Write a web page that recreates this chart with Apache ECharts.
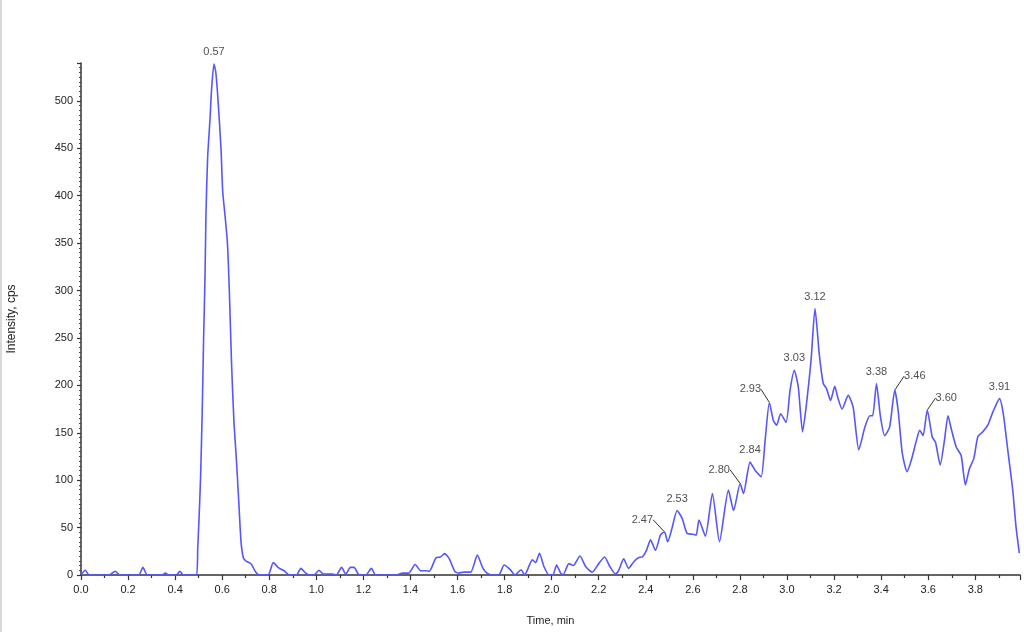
<!DOCTYPE html>
<html>
<head>
<meta charset="utf-8">
<script src="https://cdn.jsdelivr.net/npm/echarts@6/dist/echarts.min.js"></script>
<style>
html,body{margin:0;padding:0;background:#fff;}
#c{width:1024px;height:632px;box-sizing:border-box;border-left:2px solid #d8d8d8;}
</style>
</head>
<body>
<div id="c"></div>
<script>
// Retention time (min)
const times = [
0.000,0.018,0.035,0.120,0.145,0.165,0.245,0.263,0.282,0.345,0.359,0.372,0.405,0.420,0.435,0.475,0.4915,
0.496,0.501,0.508,0.515,0.521,0.527,0.531,0.538,0.548,0.555,0.565,0.573,0.583,0.595,0.602,0.612,0.622,
0.630,0.640,0.650,0.661,0.672,0.680,0.690,0.700,0.715,0.725,0.740,0.757,0.795,0.817,0.840,0.863,0.885,
0.916,0.934,0.955,0.970,0.990,1.011,1.030,1.050,1.069,1.085,1.107,1.125,1.145,1.160,1.183,1.210,1.234,
1.252,1.340,1.366,1.392,1.420,1.443,1.466,1.480,1.508,1.527,1.545,1.565,1.588,1.603,1.626,1.656,1.684,
1.707,1.725,1.748,1.775,1.798,1.824,1.844,1.870,1.885,1.918,1.932,1.948,1.967,1.989,2.005,2.021,2.038,
2.049,2.073,2.092,2.120,2.144,2.172,2.200,2.225,2.247,2.271,2.285,2.306,2.327,2.349,2.370,2.385,2.403,
2.420,2.441,2.462,2.479,2.493,2.511,2.533,2.554,2.575,2.600,2.614,2.626,2.653,2.683,2.713,2.751,2.773,
2.801,2.815,2.843,2.864,2.890,2.907,2.925,2.942,2.956,2.973,2.996,3.013,3.031,3.048,3.066,3.083,3.102,
3.119,3.137,3.154,3.168,3.185,3.203,3.217,3.234,3.260,3.281,3.305,3.331,3.352,3.364,3.380,3.397,3.415,
3.436,3.458,3.472,3.490,3.510,3.528,3.550,3.564,3.578,3.596,3.617,3.631,3.651,3.669,3.684,3.698,3.719,
3.740,3.758,3.775,3.794,3.811,3.832,3.853,3.875,3.903,3.919,3.938,3.959,3.973,3.987
];
// Intensity (cps)
const intensity = [
0,5,0,0,4,0,0,8,0,0,2,0,0,4,0,0,0,
28,56,102,172,250,315,380,440,480,513,539,530,498,449,405,379,351,
302,221,161,119,70,35,18,15,13,11,4,0,0,13,7.5,4.5,0,
0,7,2,0,0,5,1,1,1,0,8,1,8,8,0,0,7,
0,0,2,2,11,4.5,4.5,4,18,19,22.5,17,4,2,3,3,21,
7.5,2,0,0,10.5,5.6,0,5.6,0,16,13,23,9,0,0,10.5,2,
0.5,12,10,20,9,3,12,19,9,1,5,17,7,14,18.5,19,26,
37,26,42,45.6,35,49,68,60,44,43,42,58,41,86,35,89.5,68,
96.5,86,119,110.5,103.5,142,182,163,158,170,161,195,216,198,151,181,226,
281,233,202,196.5,184,199,186,175,189.5,177,132,156,168,168,202,167,147,
156,195,174,128,109,121,142,152.6,147,174,145.6,140,116,142,168,154,135,
126,95,112,123,146,151,158,172,186,170,132,90,51,23
];
// Annotated peak retention times
const peakLabels = ['0.57','2.47','2.53','2.80','2.84','2.93','3.03','3.12','3.38','3.46','3.60','3.91'];
const xTicks = {min: 0, max: 3.99, interval: 0.2};
const yTicks = {min: 0, max: 540, interval: 50};

// leader-label shifts (style only)
const leader = {'2.47':[-22,0],'2.80':[-21,-2],'2.93':[-19,-1],'3.46':[20,-2],'3.60':[19,0]};

function peakPoint(lbl){
  const t = parseFloat(lbl);
  let best = -1;
  for (let i=0;i<times.length;i++){
    if (Math.abs(times[i]-t) <= 0.016){
      if (best<0 || intensity[i] > intensity[best]) best = i;
    }
  }
  return [times[best], intensity[best]];
}

const lineData = times.map((t,i)=>[t,intensity[i]]);
const peakData = peakLabels.map(l=>{
  const p = peakPoint(l);
  const hasLeader = !!leader[l];
  return {value:p, name:l, labelLine:{show:hasLeader}};
});

const chart = echarts.init(document.getElementById('c'), null, {renderer:'canvas'});
const txt = '#222';
chart.setOption({
  animation:false,
  backgroundColor:'#fff',
  grid:{left:79,right:4,top:63,bottom:57,containLabel:false,outerBoundsMode:'none'},
  xAxis:{
    type:'value', min:xTicks.min, max:xTicks.max, interval:xTicks.interval,
    name:'Time, min', nameLocation:'middle', nameGap:40,
    nameTextStyle:{fontFamily:'Liberation Sans, Arial, sans-serif',fontSize:11,color:txt},
    axisLine:{onZero:false,lineStyle:{color:'#333',width:1.5}},
    axisTick:{show:true,length:5,lineStyle:{color:'#333',width:1.2}},
    minorTick:{show:true,splitNumber:2,length:3,lineStyle:{color:'#333',width:1.2}},
    splitLine:{show:false},
    axisLabel:{margin:9,fontFamily:'Liberation Sans, Arial, sans-serif',fontSize:11,color:txt,
      showMaxLabel:false,formatter:v=>v.toFixed(1)}
  },
  yAxis:{
    type:'value', min:yTicks.min, max:yTicks.max, interval:yTicks.interval,
    name:'Intensity, cps', nameLocation:'middle', nameGap:63, nameRotate:90,
    nameTextStyle:{fontFamily:'Liberation Sans, Arial, sans-serif',fontSize:12,color:txt},
    axisLine:{show:true,lineStyle:{color:'#333',width:1.5}},
    axisTick:{show:true,length:4,lineStyle:{color:'#333',width:1.2}},
    minorTick:{show:true,splitNumber:10,length:2,lineStyle:{color:'#444',width:1}},
    splitLine:{show:false},
    axisLabel:{margin:8,fontFamily:'Liberation Sans, Arial, sans-serif',fontSize:11,color:txt,showMaxLabel:false}
  },
  series:[
    {
      type:'line', data:lineData, showSymbol:false, smooth:0.2,
      lineStyle:{color:'#5656ff',width:1.6}, z:3
    },
    {
      type:'scatter', data:peakData, symbolSize:1, itemStyle:{color:'rgba(0,0,0,0)'},
      label:{show:true,position:'top',distance:6,formatter:p=>p.name,
        fontFamily:'Liberation Sans, Arial, sans-serif',fontSize:11,color:txt},
      labelLine:{show:false,lineStyle:{color:'#333',width:1}},
      labelLayout:function(params){
        const l = peakLabels[params.dataIndex];
        const o = leader[l];
        if(!o) return {};
        return {dx:o[0],dy:o[1]};
      },
      z:4
    }
  ]
});
</script>
</body>
</html>
